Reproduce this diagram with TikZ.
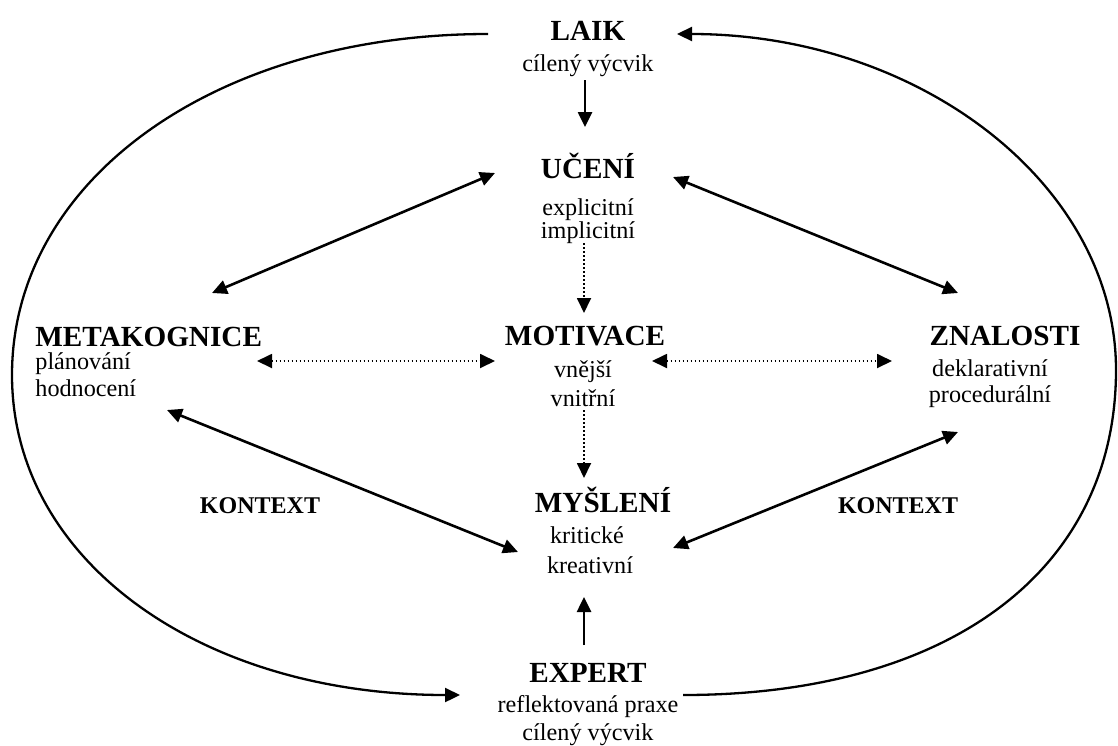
\documentclass[tikz,border=0pt]{standalone}
\usepackage{fontspec}
\setmainfont{Liberation Serif}
\usetikzlibrary{arrows.meta}
\tikzset{
  head/.style={inner sep=0pt, anchor=base, font=\fontsize{14.6}{16}\selectfont\bfseries},
  sub/.style={inner sep=0pt, anchor=base, font=\fontsize{12.1}{14}\selectfont},
  ctx/.style={inner sep=0pt, anchor=base, font=\fontsize{12}{14}\selectfont\bfseries},
  tip/.tip={Triangle[length=7.5pt,width=7pt]},
  link/.style={line width=1.3pt, tip-tip},
  oneway/.style={line width=1.3pt, -tip},
  dots/.style={line width=0.9pt, dash pattern=on 0.9pt off 1.1pt, tip-tip},
  dotsone/.style={line width=0.9pt, dash pattern=on 0.9pt off 1.1pt, -tip},
  loop/.style={line width=1.15pt, -tip}
}
\begin{document}
\begin{tikzpicture}[x=0.5pt, y=-0.5pt]
\useasboundingbox (0,0) rectangle (1118,745);

% concepts
\node[head] (laik) at (588,40) {LAIK};
\node[sub]  (laik1) at (588,71) {cílený výcvik};

\node[head] (uceni) at (588,178) {UČENÍ};
\node[sub]  (uceni1) at (588,215) {explicitní};
\node[sub]  (uceni2) at (588,238) {implicitní};

\node[head] (motiv) at (585,345) {MOTIVACE};
\node[sub]  (motiv1) at (583,377) {vnější};
\node[sub]  (motiv2) at (583,406) {vnitřní};

\node[head, anchor=base west] (meta) at (35,346) {METAKOGNICE};
\node[sub, anchor=base west]  (meta1) at (35,369) {plánování};
\node[sub, anchor=base west]  (meta2) at (35,396) {hodnocení};

\node[head] (znal) at (1005,345) {ZNALOSTI};
\node[sub]  (znal1) at (990,376) {deklarativní};
\node[sub]  (znal2) at (990,402) {procedurální};

\node[head] (mysl) at (603,512) {MYŠLENÍ};
\node[sub]  (mysl1) at (587,543) {kritické};
\node[sub]  (mysl2) at (590,573) {kreativní};

\node[head] (expert) at (588,682) {EXPERT};
\node[sub]  (expert1) at (588,712) {reflektovaná praxe};
\node[sub]  (expert2) at (588,740) {cílený výcvik};

\node[ctx] (ctxl) at (260,513) {KONTEXT};
\node[ctx] (ctxr) at (898,513) {KONTEXT};

% connector end points
\coordinate (laik-d)   at (585,80);
\coordinate (uceni-u)  at (585,127);
\coordinate (uceni-l)  at (495,173);
\coordinate (uceni-r)  at (673,177);
\coordinate (uceni-d)  at (584,243);
\coordinate (motiv-u)  at (584,313);
\coordinate (motiv-l)  at (495,361);
\coordinate (motiv-r)  at (652,361);
\coordinate (motiv-d)  at (584,410);
\coordinate (meta-u)   at (212,293);
\coordinate (meta-r)   at (257,361);
\coordinate (meta-d)   at (167,410);
\coordinate (znal-u)   at (958,293);
\coordinate (znal-l)   at (892,361);
\coordinate (znal-d)   at (958,432);
\coordinate (mysl-u)   at (584,478);
\coordinate (mysl-l)   at (518,552);
\coordinate (mysl-r)   at (673,548);
\coordinate (mysl-b)   at (584,597);
\coordinate (expert-u) at (584,645);
\coordinate (laik-w)   at (488,34);
\coordinate (laik-e)   at (677,34);
\coordinate (expert-w) at (460,695);
\coordinate (expert-e) at (683,695);

% straight connectors
\draw[oneway] (laik-d) -- (uceni-u);
\draw[link] (meta-u) -- (uceni-l);
\draw[link] (uceni-r) -- (znal-u);
\draw[link] (meta-d) -- (mysl-l);
\draw[link] (znal-d) -- (mysl-r);
\draw[oneway] (expert-u) -- (mysl-b);
\draw[dotsone] (uceni-d) -- (motiv-u);
\draw[dotsone] (motiv-d) -- (mysl-u);
\draw[dots] (meta-r) -- (motiv-l);
\draw[dots] (motiv-r) -- (znal-l);

% outer loop
\draw[loop] (laik-w) .. controls (215,34) and (12,180) .. (12,375)
            .. controls (12,560) and (200,695) .. (expert-w);
\draw[loop] (expert-e) .. controls (950,695) and (1116,570) .. (1116,370)
            .. controls (1116,185) and (920,34) .. (laik-e);
\end{tikzpicture}
\end{document}
